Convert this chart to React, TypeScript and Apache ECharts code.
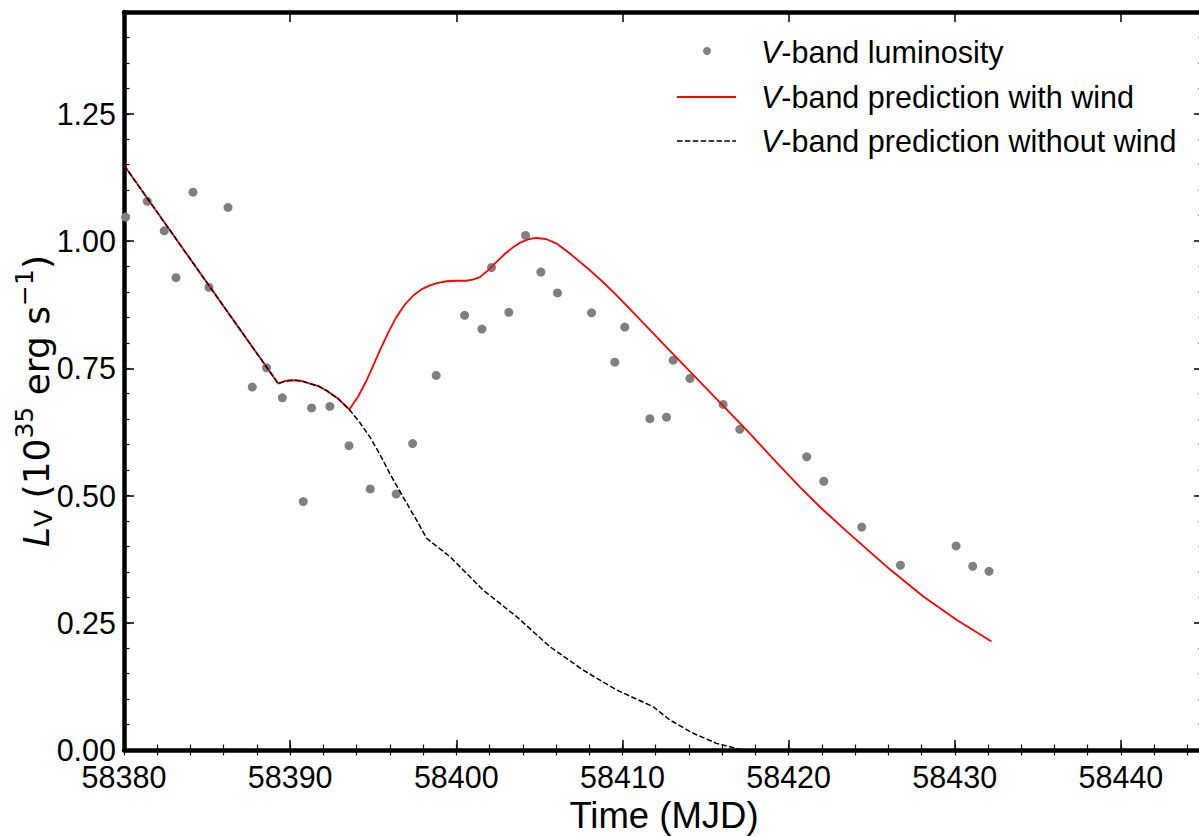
import React, { useEffect, useRef } from "react";
import * as echarts from "echarts";

// Observed V-band luminosity (MJD, 1e35 erg/s)
const obsTime = [
  58380.1, 58381.4, 58382.42, 58383.13, 58384.15, 58385.11, 58386.26, 58387.72,
  58388.58, 58389.53, 58390.79, 58391.29, 58392.39, 58393.54, 58394.82, 58396.38,
  58397.37, 58398.79, 58400.5, 58401.54, 58402.12, 58403.16, 58404.17, 58405.09,
  58406.09, 58408.14, 58409.54, 58410.14, 58411.65, 58412.65, 58413.05, 58414.06,
  58416.06, 58417.06, 58421.09, 58422.12, 58424.4, 58426.73, 58430.08, 58431.08,
  58432.06,
];
const obsLum = [
  1.047, 1.078, 1.02, 0.928, 1.096, 0.909, 1.066, 0.713,
  0.751, 0.692, 0.488, 0.672, 0.675, 0.598, 0.513, 0.503,
  0.602, 0.736, 0.854, 0.827, 0.948, 0.86, 1.011, 0.939,
  0.898, 0.859, 0.762, 0.831, 0.651, 0.654, 0.766, 0.73,
  0.679, 0.63, 0.576, 0.528, 0.438, 0.363, 0.401, 0.361,
  0.351,
];

// Prediction common to both models (straight decline, then small arc)
const sharedTime = [58380, 58389.28, 58389.7, 58390.19, 58390.7, 58391.19, 58391.7, 58392.2, 58392.9, 58393.56];
const sharedLum = [1.149, 0.72, 0.725, 0.7265, 0.725, 0.72, 0.715, 0.706, 0.69, 0.669];

// Prediction with wind (after divergence)
const windTime = [
  58394.1, 58394.6, 58395.0, 58395.4, 58395.9, 58396.4, 58396.9, 58397.41, 58397.9,
  58398.41, 58398.9, 58399.42, 58400.0, 58400.62, 58401.0, 58401.42, 58401.9,
  58402.42, 58402.9, 58403.42, 58403.9, 58404.4, 58404.83, 58405.4, 58406.03, 58406.7,
  58407.44, 58408.1, 58408.74, 58409.5, 58410.25, 58413.05, 58414.86, 58417.66,
  58419.27, 58420.67, 58422.0, 58423.48, 58426.09, 58428.09, 58430.1, 58432.21,
];
const windLum = [
  0.695, 0.726, 0.755, 0.785, 0.82, 0.851, 0.875, 0.893, 0.905,
  0.913, 0.918, 0.921, 0.922, 0.922, 0.924, 0.929, 0.942,
  0.959, 0.974, 0.988, 0.998, 1.004, 1.006, 1.004, 0.995, 0.979,
  0.959, 0.941, 0.922, 0.898, 0.873, 0.778, 0.717, 0.622,
  0.565, 0.517, 0.474, 0.43, 0.355, 0.302, 0.256, 0.213,
];

// Prediction without wind (after divergence)
const noWindTime = [
  58394.2, 58394.8, 58395.4, 58396.0, 58396.8, 58397.6, 58398.21, 58399.61, 58401.62,
  58403.63, 58405.63, 58407.64, 58409.64, 58411.85, 58412.85, 58414.25, 58415.66,
  58416.86, 58417.3,
];
const noWindLum = [
  0.643, 0.615, 0.581, 0.543, 0.497, 0.452, 0.416, 0.38, 0.314,
  0.262, 0.203, 0.157, 0.118, 0.085, 0.059, 0.033, 0.013,
  0.003, 0,
];

const X_MIN = 58380;
const X_MAX = 58445;
const Y_MIN = 0;
const Y_MAX = 1.45;

const LEGEND_LABELS = [
  "{i|V}-band luminosity",
  "{i|V}-band prediction with wind",
  "{i|V}-band prediction without wind",
];

const SANS = "Liberation Sans, Arial, sans-serif";
const MATH = "DejaVu Sans, sans-serif";
const TICK_FONT = 30.5;

function zip(xs: number[], ys: number[]) {
  return xs.map((x, i) => [x, ys[i]]);
}

export default function App() {
  const ref = useRef<HTMLDivElement>(null);

  useEffect(() => {
    if (!ref.current) return;
    const chart = echarts.init(ref.current, undefined, { renderer: "svg" });

    const black = "#000000";
    const majorTick = { show: true, inside: true, length: 10, lineStyle: { color: black, width: 1.5 } };
    const minorTick = { show: true, inside: true, length: 5.5, lineStyle: { color: black, width: 1.2 } };
    const spine = { show: true, onZero: false, lineStyle: { color: black, width: 4.5 } };

    const xBase = { type: "value", min: X_MIN, max: X_MAX, splitLine: { show: false } };
    const yBase = { type: "value", min: Y_MIN, max: Y_MAX, splitLine: { show: false } };

    const option: any = {
      animation: false,
      grid: { left: 124, right: 6, top: 12, bottom: 86, containLabel: false, outerBoundsMode: "none" },
      xAxis: [
        {
          ...xBase,
          position: "bottom",
          interval: 10,
          axisLine: spine,
          axisTick: majorTick,
          axisLabel: {
            show: true,
            margin: 14,
            fontSize: TICK_FONT,
            lineHeight: 26,
            color: black,
            fontFamily: SANS,
            formatter: (v: number) => (Math.abs(v % 10) < 1e-6 ? String(v) : ""),
          },
          name: "Time (MJD)",
          nameLocation: "middle",
          nameGap: 46,
          nameTextStyle: { fontSize: 36.5, color: black, fontFamily: SANS },
        },
        { ...xBase, position: "bottom", interval: 2, axisLine: { show: false }, axisTick: minorTick, axisLabel: { show: false } },
        { ...xBase, position: "top", interval: 10, axisLine: spine, axisTick: majorTick, axisLabel: { show: false } },
        { ...xBase, position: "top", interval: 2, axisLine: { show: false }, axisTick: minorTick, axisLabel: { show: false } },
      ],
      yAxis: [
        {
          ...yBase,
          position: "left",
          interval: 0.25,
          axisLine: spine,
          axisTick: majorTick,
          axisLabel: {
            show: true,
            margin: 8,
            fontSize: TICK_FONT,
            lineHeight: 22,
            color: black,
            fontFamily: SANS,
            formatter: (v: number) => {
              const q = v * 4;
              return Math.abs(q - Math.round(q)) < 1e-6 ? v.toFixed(2) : "";
            },
          },
        },
        { ...yBase, position: "left", interval: 0.05, axisLine: { show: false }, axisTick: minorTick, axisLabel: { show: false } },
        { ...yBase, position: "right", interval: 0.25, axisLine: spine, axisTick: majorTick, axisLabel: { show: false } },
        { ...yBase, position: "right", interval: 0.05, axisLine: { show: false }, axisTick: minorTick, axisLabel: { show: false } },
      ],
      series: [
        {
          name: "obs",
          type: "scatter",
          xAxisIndex: 0,
          yAxisIndex: 0,
          symbol: "circle",
          symbolSize: 9,
          itemStyle: { color: "#808080", opacity: 1 },
          data: zip(obsTime, obsLum),
          z: 2,
        },
        {
          name: "wind",
          type: "line",
          xAxisIndex: 0,
          yAxisIndex: 0,
          showSymbol: false,
          smooth: false,
          lineStyle: { color: "#ff0000", width: 1.8 },
          data: zip(sharedTime.concat(windTime), sharedLum.concat(windLum)),
          z: 3,
        },
        {
          name: "nowind",
          type: "line",
          xAxisIndex: 0,
          yAxisIndex: 0,
          showSymbol: false,
          smooth: false,
          lineStyle: { color: black, width: 1.5, type: [5.5, 2.4] },
          data: zip(sharedTime.concat(noWindTime), sharedLum.concat(noWindLum)),
          z: 4,
        },
      ],
      graphic: [
        {
          type: "text",
          x: 36,
          y: 401,
          rotation: Math.PI / 2,
          style: {
            text: "{i|L}{sub|V}{n| (10}{sup|35}{n| erg s}{sup|\u22121}{n|)}",
            align: "center",
            verticalAlign: "middle",
            fill: black,
            fontFamily: MATH,
            fontSize: 36,
            rich: {
              i: { fontStyle: "italic", fontSize: 36, fontFamily: MATH, verticalAlign: "middle" },
              n: { fontSize: 36, fontFamily: MATH, verticalAlign: "middle" },
              sub: { fontSize: 25, fontFamily: MATH, verticalAlign: "middle", padding: [14, 0, 0, 0] },
              sup: { fontSize: 25, fontFamily: MATH, verticalAlign: "middle", padding: [0, 0, 24, 0] },
            },
          },
        },
        { type: "circle", shape: { cx: 707, cy: 51, r: 4 }, style: { fill: "#808080" } },
        { type: "line", shape: { x1: 677, y1: 97, x2: 736, y2: 97 }, style: { stroke: "#ff0000", lineWidth: 1.8 } },
        { type: "line", shape: { x1: 677, y1: 141, x2: 736, y2: 141 }, style: { stroke: black, lineWidth: 1.5, lineDash: [5.5, 2.4] } },
        ...LEGEND_LABELS.map((t, i) => ({
          type: "text",
          x: 761,
          y: [52, 97, 141][i],
          style: {
            text: t,
            fill: black,
            fontFamily: SANS,
            fontSize: TICK_FONT,
            verticalAlign: "middle",
            align: "left",
            rich: { i: { fontStyle: "italic", fontFamily: SANS, fontSize: TICK_FONT } },
          },
        })),
      ],
    };

    chart.setOption(option);
    return () => chart.dispose();
  }, []);

  return (
    <div style={{ position: "absolute", left: 0, top: 0, width: 1199, height: 836, overflow: "hidden", background: "#ffffff" }}>
      <div ref={ref} style={{ width: 1210, height: 836 }} />
    </div>
  );
}
